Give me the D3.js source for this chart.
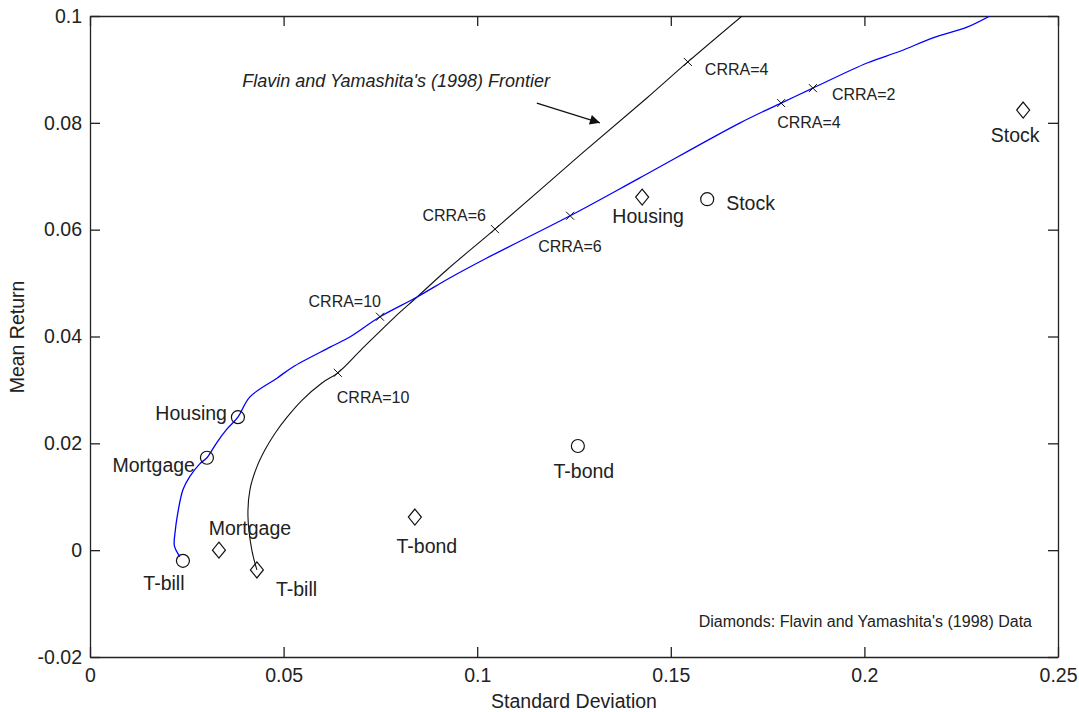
<!DOCTYPE html>
<html>
<head>
<meta charset="utf-8">
<script src="https://cdn.jsdelivr.net/npm/d3@7"></script>
<style>
  html, body { margin: 0; padding: 0; background: #fff; }
  svg { display: block; font-family: "Liberation Sans", Arial, sans-serif; }
  .axis text { font-size: 19.5px; fill: #222; }
  .axis path, .axis line { stroke: #222; stroke-width: 1.3px; }
</style>
</head>
<body>
<figure id="frontier" style="margin:0"></figure>
<script>
// ---- data ----
const xTicks = [0, 0.05, 0.1, 0.15, 0.2, 0.25];
const yTicks = [-0.02, 0, 0.02, 0.04, 0.06, 0.08, 0.1];
const xTickLabels = ["0", "0.05", "0.1", "0.15", "0.2", "0.25"];
const yTickLabels = ["-0.02", "0", "0.02", "0.04", "0.06", "0.08", "0.1"];

// blue frontier (this paper)
const blueSd  = [0.0232, 0.0218, 0.0220, 0.0225, 0.0240, 0.0258, 0.0284, 0.0302, 0.0328, 0.0354, 0.0382,
                 0.0413, 0.0483, 0.0524, 0.0620, 0.0671, 0.0749, 0.0845, 0.0930, 0.1025, 0.1240, 0.1420,
                 0.1679, 0.1785, 0.1867, 0.2007, 0.2092, 0.2177, 0.2265, 0.2324];
const blueRet = [-0.0012, 0.0008, 0.0035, 0.0062, 0.0113, 0.0138, 0.0162, 0.0173, 0.0202, 0.0227, 0.0249,
                 0.0287, 0.0322, 0.0343, 0.0380, 0.0399, 0.0437, 0.0474, 0.0510, 0.0547, 0.0626, 0.0697,
                 0.0800, 0.0837, 0.0865, 0.0912, 0.0934, 0.0959, 0.0979, 0.1000];

// black frontier (Flavin and Yamashita 1998)
const blackSd  = [0.0431, 0.0418, 0.0408, 0.0413, 0.0431, 0.0452, 0.0478, 0.0509, 0.0548, 0.0599,
                  0.0640, 0.0700, 0.0785, 0.0845, 0.0922, 0.1046, 0.1266, 0.1439, 0.1544, 0.1684];
const blackRet = [-0.0037, 0.0000, 0.0062, 0.0113, 0.0156, 0.0188, 0.0219, 0.0249, 0.0281, 0.0313,
                  0.0332, 0.0375, 0.0435, 0.0474, 0.0525, 0.0601, 0.0740, 0.0847, 0.0914, 0.1000];

const assets = ["T-bill", "Mortgage", "Housing", "T-bond", "Stock"];
const circleSd  = [0.0240, 0.0302, 0.0382, 0.1260, 0.1594];
const circleRet = [-0.0020, 0.0173, 0.0249, 0.0195, 0.0657];
const diamondSd  = [0.0431, 0.0333, 0.0839, 0.1426, 0.2410];
const diamondRet = [-0.0037, 0.0000, 0.0062, 0.0661, 0.0824];
const diamondNames = ["T-bill", "Mortgage", "T-bond", "Housing", "Stock"];

const blueCrra = ["CRRA=10", "CRRA=6", "CRRA=4", "CRRA=2"];
const blueCrraSd  = [0.0749, 0.1240, 0.1785, 0.1867];
const blueCrraRet = [0.0437, 0.0626, 0.0837, 0.0865];
const blackCrra = ["CRRA=10", "CRRA=6", "CRRA=4"];
const blackCrraSd  = [0.0640, 0.1046, 0.1544];
const blackCrraRet = [0.0332, 0.0601, 0.0914];

// ---- label layout (pixel offsets from the marker) ----
const circleLabelPos = [
  { dx: -19, dy: 29, anchor: "middle" },
  { dx: -12, dy: 14, anchor: "end" },
  { dx: -11, dy: 3, anchor: "end" },
  { dx: 6, dy: 32, anchor: "middle" },
  { dx: 19, dy: 11, anchor: "start" }
];
const diamondLabelPos = [
  { dx: 19, dy: 26, anchor: "start" },
  { dx: 31, dy: -15, anchor: "middle" },
  { dx: 12, dy: 36, anchor: "middle" },
  { dx: 6, dy: 26, anchor: "middle" },
  { dx: -8, dy: 32, anchor: "middle" }
];
const blueCrraPos = [
  { dx: 1, dy: -10, anchor: "end" },
  { dx: -32, dy: 36, anchor: "start" },
  { dx: -4, dy: 25, anchor: "start" },
  { dx: 19, dy: 12, anchor: "start" }
];
const blackCrraPos = [
  { dx: -1, dy: 30, anchor: "start" },
  { dx: -9, dy: -8, anchor: "end" },
  { dx: 17, dy: 13, anchor: "start" }
];

const W = 1079, H = 712;
const margin = { top: 16, left: 90 };
const width = 968, height = 641;

const svg = d3.select("figure#frontier")
  .append("svg")
  .attr("width", W)
  .attr("height", H);

const g = svg.append("g")
  .attr("transform", `translate(${margin.left}, ${margin.top})`);

const xScale = d3.scaleLinear().domain([0, 0.25]).range([0, width]);
const yScale = d3.scaleLinear().domain([-0.02, 0.1]).range([height, 0]);

// axes, ticks pointing inward on all four sides
g.append("g")
  .attr("class", "axis")
  .attr("transform", `translate(0, ${height})`)
  .call(d3.axisBottom(xScale).tickValues(xTicks).tickFormat((d, i) => xTickLabels[i])
    .tickSizeInner(-10).tickSizeOuter(0).tickPadding(11));

g.append("g")
  .attr("class", "axis")
  .call(d3.axisTop(xScale).tickValues(xTicks).tickFormat("")
    .tickSizeInner(-10).tickSizeOuter(0));

g.append("g")
  .attr("class", "axis")
  .call(d3.axisLeft(yScale).tickValues(yTicks).tickFormat((d, i) => yTickLabels[i])
    .tickSizeInner(-10).tickSizeOuter(0).tickPadding(8));

g.append("g")
  .attr("class", "axis")
  .attr("transform", `translate(${width}, 0)`)
  .call(d3.axisRight(yScale).tickValues(yTicks).tickFormat("")
    .tickSizeInner(-10).tickSizeOuter(0));

g.selectAll(".axis .domain").attr("stroke-width", 1.5);

// axis titles
svg.append("text")
  .attr("x", margin.left + width / 2)
  .attr("y", 708)
  .attr("text-anchor", "middle")
  .style("font-size", "19.5px")
  .style("fill", "#222")
  .text("Standard Deviation");

svg.append("text")
  .attr("transform", `translate(24, ${margin.top + 321}) rotate(-90)`)
  .attr("text-anchor", "middle")
  .style("font-size", "19.5px")
  .style("fill", "#222")
  .text("Mean Return");

// clip the frontiers to the plot box
svg.append("defs").append("clipPath").attr("id", "plotClip")
  .append("rect").attr("width", width).attr("height", height);

const line = d3.line()
  .x(d => xScale(d[0]))
  .y(d => yScale(d[1]))
  .curve(d3.curveCatmullRom.alpha(0.5));

const curves = g.append("g").attr("clip-path", "url(#plotClip)");

curves.append("path")
  .datum(d3.zip(blackSd, blackRet))
  .attr("d", line)
  .attr("fill", "none")
  .attr("stroke", "#111")
  .attr("stroke-width", 1.1);

curves.append("path")
  .datum(d3.zip(blueSd, blueRet))
  .attr("d", line)
  .attr("fill", "none")
  .attr("stroke", "#0000ff")
  .attr("stroke-width", 1.3);

// CRRA "x" markers and labels
function crraMarks(sd, ret, names, pos) {
  const pts = d3.zip(sd, ret);
  g.append("g").selectAll("path")
    .data(pts)
    .enter().append("path")
    .attr("transform", d => `translate(${xScale(d[0])}, ${yScale(d[1])})`)
    .attr("d", "M-4,-4L4,4M-4,4L4,-4")
    .attr("stroke", "#111")
    .attr("stroke-width", 1);

  g.append("g").selectAll("text")
    .data(pts)
    .enter().append("text")
    .attr("x", (d, i) => xScale(d[0]) + pos[i].dx)
    .attr("y", (d, i) => yScale(d[1]) + pos[i].dy)
    .attr("text-anchor", (d, i) => pos[i].anchor)
    .style("font-size", "16px")
    .style("fill", "#222")
    .text((d, i) => names[i]);
}
crraMarks(blueCrraSd, blueCrraRet, blueCrra, blueCrraPos);
crraMarks(blackCrraSd, blackCrraRet, blackCrra, blackCrraPos);

// asset markers
const circles = d3.zip(circleSd, circleRet);
g.append("g").selectAll("circle")
  .data(circles)
  .enter().append("circle")
  .attr("cx", d => xScale(d[0]))
  .attr("cy", d => yScale(d[1]))
  .attr("r", 6.5)
  .attr("fill", "none")
  .attr("stroke", "#111")
  .attr("stroke-width", 1.2);

g.append("g").selectAll("text")
  .data(circles)
  .enter().append("text")
  .attr("x", (d, i) => xScale(d[0]) + circleLabelPos[i].dx)
  .attr("y", (d, i) => yScale(d[1]) + circleLabelPos[i].dy)
  .attr("text-anchor", (d, i) => circleLabelPos[i].anchor)
  .style("font-size", "19.5px")
  .style("fill", "#222")
  .text((d, i) => assets[i]);

const diamonds = d3.zip(diamondSd, diamondRet);
g.append("g").selectAll("path")
  .data(diamonds)
  .enter().append("path")
  .attr("transform", d => `translate(${xScale(d[0])}, ${yScale(d[1])})`)
  .attr("d", "M0,-8L6.5,0L0,8L-6.5,0Z")
  .attr("fill", "none")
  .attr("stroke", "#111")
  .attr("stroke-width", 1.2);

g.append("g").selectAll("text")
  .data(diamonds)
  .enter().append("text")
  .attr("x", (d, i) => xScale(d[0]) + diamondLabelPos[i].dx)
  .attr("y", (d, i) => yScale(d[1]) + diamondLabelPos[i].dy)
  .attr("text-anchor", (d, i) => diamondLabelPos[i].anchor)
  .style("font-size", "19.5px")
  .style("fill", "#222")
  .text((d, i) => diamondNames[i]);

// annotation with arrow
svg.append("defs").append("marker")
  .attr("id", "arrowHead")
  .attr("viewBox", "0 0 10 10")
  .attr("refX", 10).attr("refY", 5)
  .attr("markerWidth", 14).attr("markerHeight", 10)
  .attr("markerUnits", "userSpaceOnUse")
  .attr("orient", "auto")
  .append("path")
  .attr("d", "M0,0L10,5L0,10Z")
  .attr("fill", "#111");

g.append("text")
  .attr("x", xScale(0.0393))
  .attr("y", yScale(0.0867))
  .style("font-size", "18px")
  .style("font-style", "italic")
  .style("fill", "#222")
  .text("Flavin and Yamashita's (1998) Frontier");

g.append("line")
  .attr("x1", xScale(0.1154)).attr("y1", yScale(0.0837))
  .attr("x2", xScale(0.1317)).attr("y2", yScale(0.0800))
  .attr("stroke", "#111")
  .attr("stroke-width", 1.2)
  .attr("marker-end", "url(#arrowHead)");

g.append("text")
  .attr("x", width - 26)
  .attr("y", height - 30)
  .attr("text-anchor", "end")
  .style("font-size", "16px")
  .style("fill", "#222")
  .text("Diamonds: Flavin and Yamashita's (1998) Data");
</script>
</body>
</html>
